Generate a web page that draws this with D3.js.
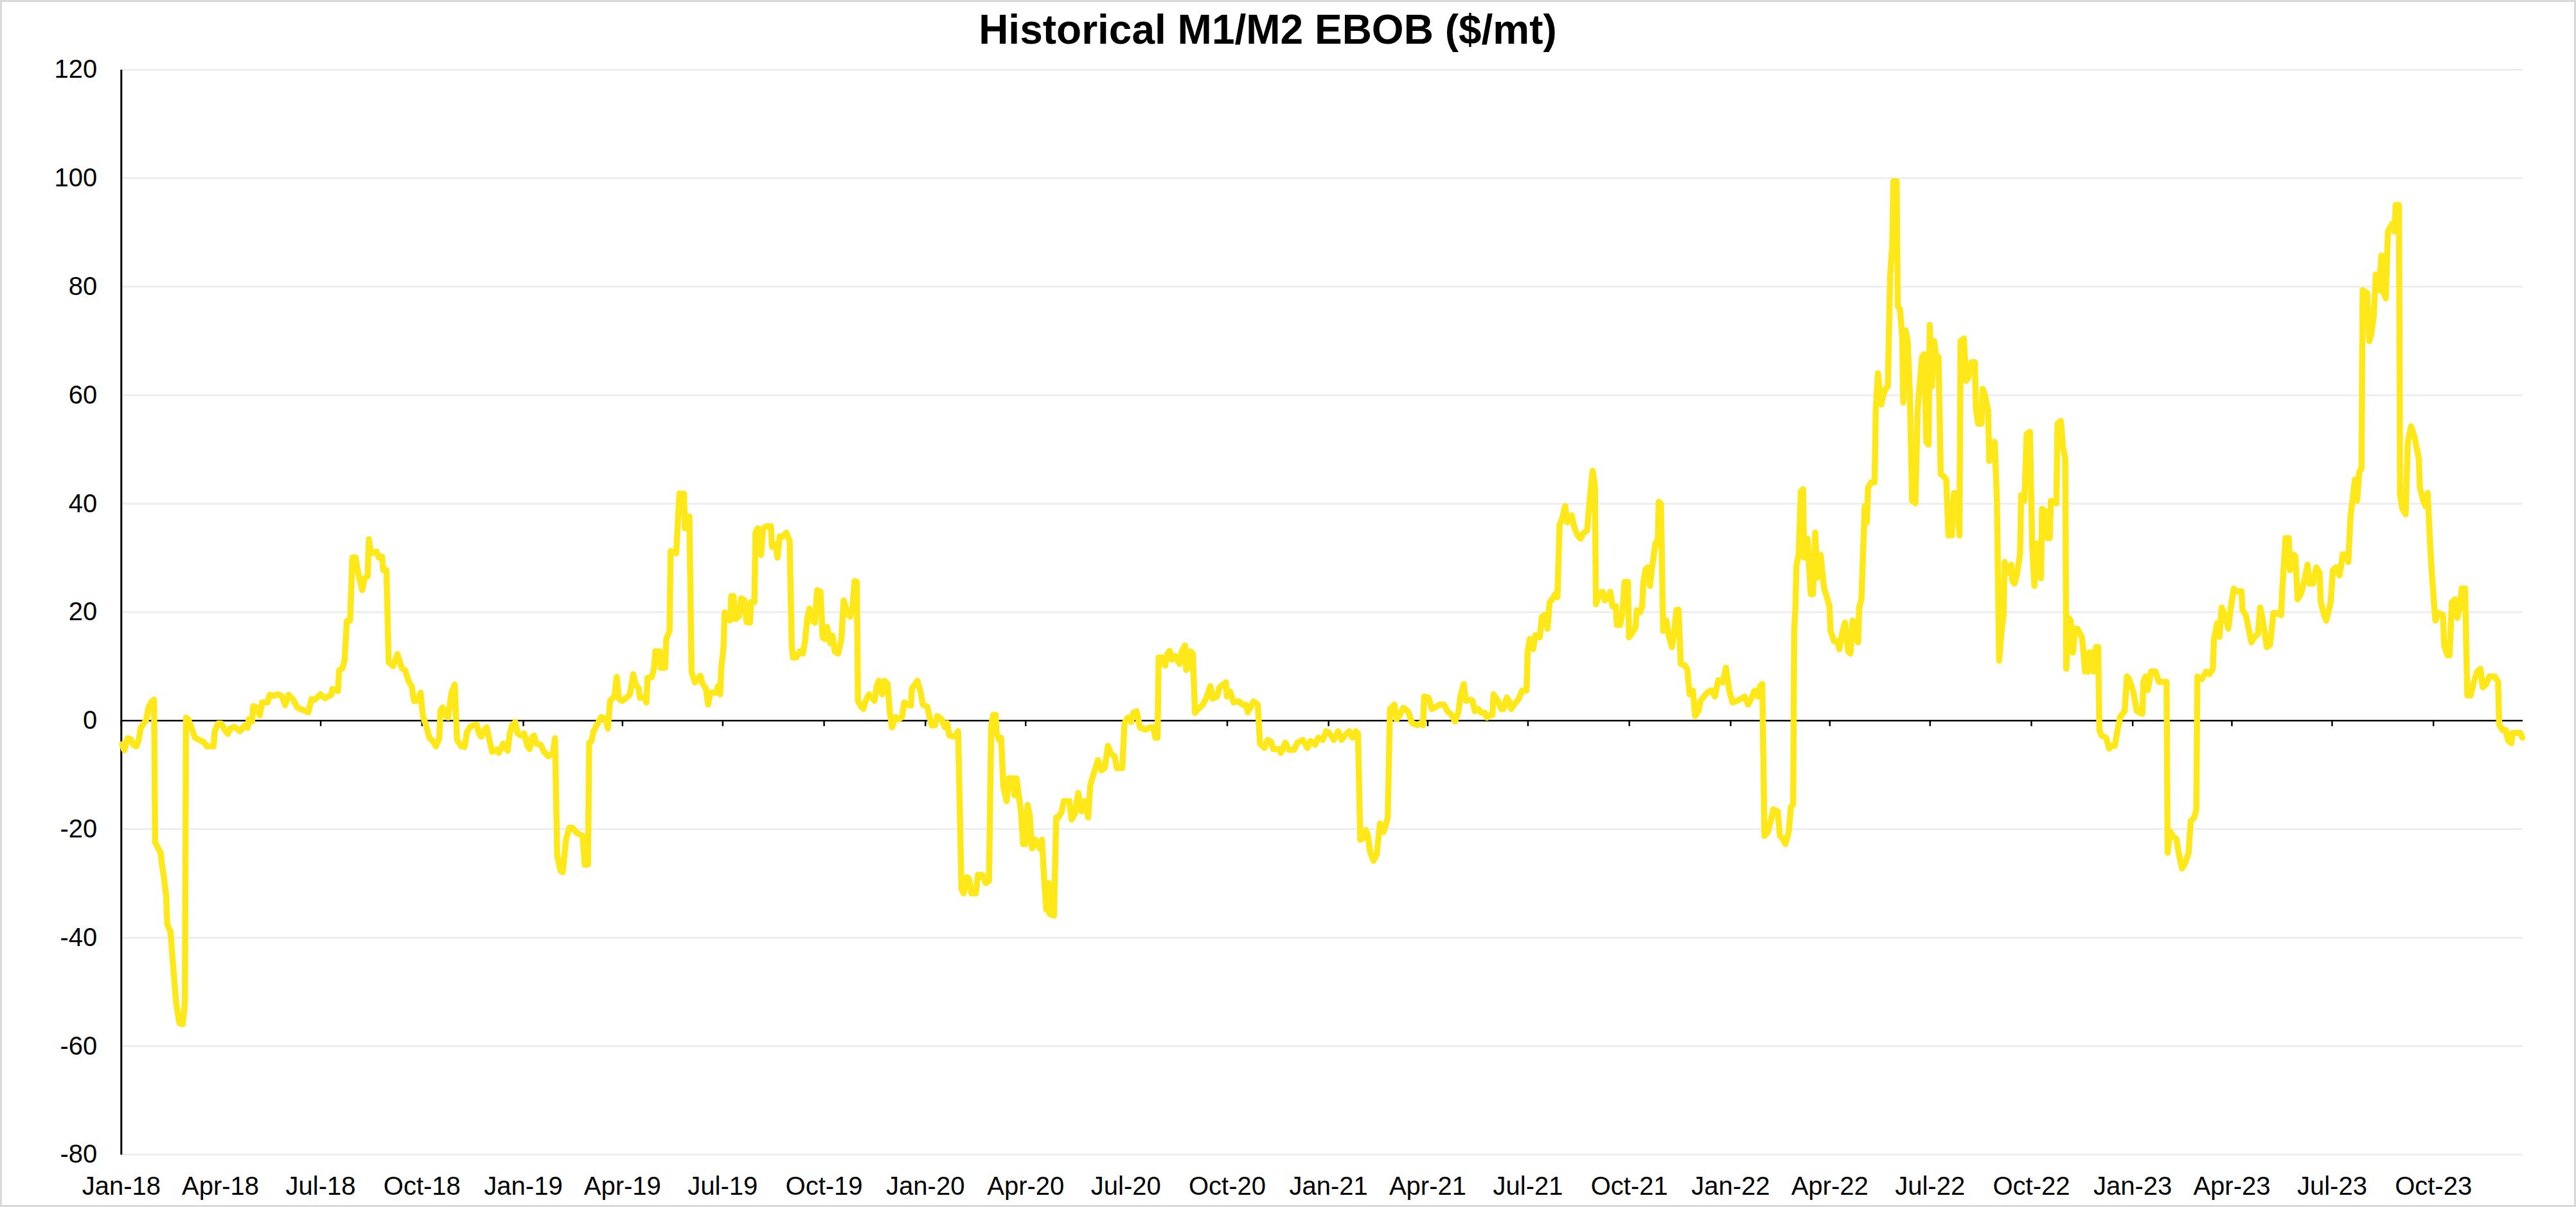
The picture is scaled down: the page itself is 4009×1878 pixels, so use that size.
<!DOCTYPE html>
<html><head><meta charset="utf-8">
<script src="https://cdn.jsdelivr.net/npm/d3@7"></script>
<style>html,body{margin:0;padding:0;background:#fff}svg{display:block}</style>
</head><body>
<svg id="chart" width="4009" height="1878"></svg>
<script>
const chartTitle = "Historical M1/M2 EBOB ($/mt)";
const yTicks = [-80, -60, -40, -20, 0, 20, 40, 60, 80, 100, 120];
const tickFormat = "%b-%y";

// day-of-year and value per calendar year
const d2018 = [2,4,7,10,12,15,17,19,22,24,26,29,31,32,35,37,38,40,42,43,46,48,51,54,57,59,60,62,65,68,72,76,79,85,86,89,92,95,98,100,104,109,113,116,117,120,121,124,127,129,134,136,140,143,147,150,153,157,161,165,169,171,174,177,182,186,192,193,198,199,202,204,206,209,211,214,216,220,222,225,226,228,233,235,238,239,242,244,248,252,256,259,262,265,267,270,273,275,278,281,284,287,290,291,293,296,298,301,304,306,310,313,315,318,321,324,326,328,331,333,335,338,342,344,348,352,354,356,359,361,364];
const v2018 = [-4.4,-5.5,-3.3,-3.5,-4.5,-4.8,-3.6,-1.4,-0.5,0.2,2.4,3.5,3.8,-22.5,-23.7,-24.4,-26.3,-29,-32.4,-37.6,-39,-44.4,-52,-55.8,-56,-52,0.5,0.2,-1.4,-3.2,-3.6,-4,-4.8,-4.8,-2.1,-0.6,-0.6,-1.7,-2.5,-1.5,-1.2,-2,-1,-1.4,0.2,-0.2,2.6,2.4,0.9,3.3,3.3,4.7,4.5,4.8,4.5,2.8,4.7,3.9,2.4,2.0,1.7,1.5,3.9,3.8,4.8,4.1,4.7,5.8,5.4,9.2,9.6,11.1,18.3,18.4,30,30,27.4,24,26.2,26.6,33.4,30.8,31.1,30,30.2,27.7,27.7,10.7,10,12.2,9.6,9.2,7.3,6.2,3.6,3.6,5.1,0.9,-1,-3.2,-3.8,-4.8,-3.2,1.7,2.4,0.9,0.5,5.1,6.6,-3.6,-4.8,-4.9,-2.2,-1.2,-0.9,-0.8,-2.4,-3,-1.7,-1.3,-3.2,-5.8,-5.4,-6,-4.3,-5.6,-2.4,-0.9,-0.3,-2.4,-2.8];

const d2019 = [2,5,7,9,11,13,17,20,24,28,30,32,35,37,40,43,46,49,52,55,57,60,61,63,65,69,72,76,78,80,84,86,88,91,95,98,101,103,106,107,111,113,114,118,120,121,125,126,130,131,134,135,140,143,147,148,152,154,157,162,164,167,169,171,176,178,180,181,183,184,187,189,190,192,194,197,199,202,204,207,208,211,212,214,217,219,222,226,227,230,232,234,237,240,243,245,246,249,252,255,257,259,261,263,266,268,271,273,275,277,280,282,284,287,290,292,296,298,300,302,304,305,308,310,312,315,320,322,324,327,329,332,334,336,339,342,345,347,350,353,354,357,359,362,364];
const v2019 = [-2.4,-4.7,-5.3,-3.2,-2.8,-4.3,-4.5,-5.8,-6.6,-6.2,-3.3,-25,-27.7,-28,-22,-19.8,-19.8,-20.6,-21,-21.3,-26.6,-26.6,-4.1,-3.9,-2,-0.5,0.6,0.2,-1.5,3.6,4.4,8,4,3.6,4.2,4.8,8.5,6.7,5.9,4.2,4.2,3.3,7.8,8,9.7,12.7,12.7,9.7,9.7,15,16.5,31.2,30.8,41.8,41.8,35.4,37.6,8.9,7,8.2,6.7,5.9,2.9,5.1,5.1,6.3,4.8,9.7,13.5,19.9,19.1,18.4,22.9,22.9,18.7,19.1,22.5,22.1,18.1,18,21.8,21.8,34.6,35.4,30.5,35.4,35.8,35.8,32,32.4,30,33.9,33.9,34.6,33.1,13.5,11.6,11.6,12.7,12.3,14.6,18.7,20.6,18.4,18,24,23.7,15.3,15,17.2,14.2,15.6,12.7,12.3,15,22.1,19.5,19.1,20.6,25.7,25.5,3.6,2.5,2.1,3.6,4.8,3.6,6.3,7.3,4.8,7.3,6.7,1.4,-1.3,0.6,0.2,0.6,3.3,2.9,2.7,5.9,6.7,7.3,5.1,2.9];

const d2020 = [3,5,7,10,12,16,19,21,23,28,31,34,36,39,41,43,47,49,53,56,59,61,63,65,66,68,70,72,75,77,81,82,84,86,88,90,92,94,96,98,101,105,107,109,111,113,114,118,120,122,125,127,132,134,137,140,143,146,149,151,155,158,161,164,167,170,173,175,180,182,185,188,190,193,196,201,205,208,210,212,213,216,219,221,223,225,228,232,234,237,238,240,242,244,246,249,253,256,260,262,266,268,272,274,275,278,281,286,289,292,294,299,303,305,309,312,315,317,322,324,328,331,336,339,344,348,351,355,358,362,365];
const v2020 = [2.5,0.6,-0.9,-0.9,0.8,0.2,-1.3,-0.5,-2.8,-3,-2,-31.1,-31.9,-28.9,-29.3,-31.9,-31.9,-28.5,-28.5,-30,-29.6,-0.9,1,1,-2.4,-3.6,-3.2,-12.2,-14.9,-10.7,-10.7,-13.8,-10.7,-13.8,-16.8,-22.8,-22.8,-15.6,-17.5,-23.6,-22,-23.6,-22,-28.9,-34.9,-30,-35.7,-36,-17.9,-17.9,-16.8,-14.9,-14.9,-18.3,-17.2,-13.4,-16.8,-14.9,-17.9,-11.9,-9.2,-7.3,-9.2,-8.8,-4.7,-6.2,-6.6,-8.8,-8.8,-0.5,0.5,-0.3,1.4,1.7,-1.3,-1.7,-1.3,-1.3,-3.2,-3.2,11.6,11.6,10.1,12.3,12.8,11.2,11.9,10.4,12.7,13.8,9.3,9.7,12.7,12.3,1.4,2.1,2.9,4,6.3,4,4.4,6,6.7,7,4.4,5.3,3.3,3.5,2.9,2.9,1.5,3.5,2.9,-4.3,-5.1,-3.6,-3.9,-5.3,-5.3,-6,-4.1,-5.4,-5.4,-4.1,-3.6,-5.1,-3.8,-4.5,-3.2,-3.6,-2];

const d2021 = [2,6,10,13,16,20,23,26,28,30,33,35,37,39,42,45,48,51,53,55,57,61,63,66,69,71,74,77,82,85,87,88,92,95,99,102,106,109,113,116,119,121,124,126,130,132,134,137,140,143,145,148,150,151,155,158,160,163,165,167,170,174,177,181,182,184,187,189,193,195,198,200,202,205,207,209,211,213,216,218,222,224,227,230,233,236,238,241,243,244,247,250,252,255,257,259,262,263,266,268,270,273,274,277,280,281,284,286,287,289,291,293,295,298,300,301,303,305,308,310,313,315,317,319,321,325,327,329,332,334,337,339,342,346,349,352,355,359,362,365];
const v2021 = [-2.3,-3.6,-2,-3.6,-2.8,-2,-3.2,-2,-2.4,-22,-21.7,-20.2,-21.3,-24.3,-25.9,-24.7,-19,-20.6,-19.4,-17.9,2.1,2.9,0.2,1,2.3,2.1,1.4,-0.5,-0.9,-0.5,-0.9,4.4,4.2,2.1,2.5,2.9,2.9,1.7,1,-0.2,1.4,4.4,6.7,3.6,3.8,3.6,1.7,2.1,1.4,1.4,0.5,1,1,4.8,3.6,2.1,2.1,4.2,3.6,2.1,3,4,5.5,5.5,12.7,15,13.1,15.7,15.3,19.1,19.5,16.9,21.8,22.5,23.3,22.7,36.1,36.9,39.5,36.5,37.8,35.8,34.2,33.5,34.6,35,39.9,46,43.3,21.4,23.3,23.7,22.1,22.5,23.7,21,21,17.6,17.6,19.9,25.5,25.5,15.3,16.1,17.2,20.3,19.9,21,25.5,27.8,28.2,24.8,28.2,32.7,32.4,40.3,39.9,16.5,18.4,15.7,13.5,16.1,20.3,20.4,10.4,10.1,9.3,4.8,5.5,0.8,1.7,3.6,4.4,5.3,5.5,4.4,7.4,7,9.7,5.5];

const d2022 = [3,7,11,14,17,20,23,26,28,30,32,35,38,40,44,46,48,51,54,56,58,59,60,61,63,65,67,68,71,74,76,78,80,83,86,89,91,92,95,98,100,103,105,108,110,112,115,117,118,120,123,125,126,129,132,133,135,138,140,142,144,146,148,149,152,153,155,157,158,160,162,164,166,169,171,173,175,177,179,181,182,184,186,188,190,192,195,197,199,202,204,207,209,210,213,215,217,220,223,224,226,229,230,232,235,236,238,240,241,243,245,247,249,250,253,256,257,259,261,264,265,268,270,273,275,277,279,281,283,284,287,289,291,292,297,298,301,303,305,306,308,310,312,314,316,320,321,323,326,327,330,331,333,335,336,338,342,345,347,350,352,355,359,361,363];
const v2022 = [3.3,3.6,4,4.4,2.9,4,5.5,4.4,6.3,6.7,-21.3,-20.6,-18.3,-16.4,-16.8,-21.3,-21.7,-22.8,-20.6,-16,-15.5,16.5,20.3,28.6,30.5,42.2,42.6,30,33.5,23.3,23.3,34.6,26.3,30.5,24.4,22.5,21,16.5,14.6,14.6,13.1,16.5,18,12.7,12.3,18.4,14.9,14.4,20.8,22.3,39.5,36.5,42.9,43.9,43.9,57.2,64,58.2,60.1,61.1,61.6,81.7,87.6,99.4,99.4,76.3,75.8,70.9,58.6,71.9,69.9,60.1,40.5,40,57.2,62.1,67,67.5,51.3,50.8,72.9,61.6,69.9,67,67,45.4,44.9,44.4,34.1,34.1,41.9,41.9,34.1,69.9,70.4,62.6,63.1,66,66,57.2,54.7,54.7,61.1,60.1,57.2,47.8,48.3,51.3,51.3,40.5,11,15.9,19.4,29.2,27.2,28.7,25.7,25.2,26.7,30.6,41.5,40.5,52.8,53.2,32.6,24.8,32.6,29.7,26.2,39,38.5,33.6,33.6,40.5,40,54.7,55.2,50.3,48.3,9.5,18.9,18.4,12.5,16.9,16.9,15.4,13.9,9,9,12.5,12.5,9,13.5,13.5,-1.8,-2.8,-3.2,-5.2,-4.7,-4.7,-2.3,0.7,1.7,8.1,7.6];

const d2023 = [2,5,10,11,13,15,18,22,25,32,33,35,38,41,43,46,49,52,54,57,59,60,64,68,71,74,75,78,80,82,85,88,90,93,95,100,101,104,107,109,112,115,117,119,123,126,129,132,136,137,140,143,144,147,149,151,154,157,160,162,165,168,171,172,175,177,181,183,186,189,192,195,197,199,203,205,207,209,210,214,216,218,220,222,225,227,229,231,233,237,239,240,243,244,246,249,251,254,257,261,262,265,267,269,272,274,276,279,283,284,287,289,291,294,296,298,300,303,305,308,311,314,317,319,322,325,330,333,334,337,340,342,345,346,349,353,355];
const v2023 = [5.1,1.7,1.2,7.1,8.1,5.6,9,9,7.1,7.1,-24.4,-20.4,-21.4,-21.9,-24.4,-27.3,-26.3,-24.4,-18.5,-18,-16.5,8.1,7.6,9,8.5,9.5,14.9,17.9,15.4,20.8,19.4,16.9,20.3,24.3,23.8,23.8,20.3,19.4,16.4,14.4,15.4,15.9,20.8,18.9,13.5,13.9,19.8,19.8,19.4,23.8,33.6,33.6,27.7,30.6,30.2,22.3,23.3,25.7,28.7,25.2,25.2,28.2,27.2,21.8,19.4,18.4,21.8,27.7,28.2,26.7,30.6,30.6,29.2,37.5,44.4,40.5,45.9,46.4,79.3,78.8,69.9,71.4,74.4,82.2,79.3,85.7,78.8,77.8,90.1,91.6,90.1,95,95,41.5,39,38,51.3,54.2,52.3,48.3,42.9,40.5,39.5,41.9,29.7,23.8,18.4,19.8,19.4,13.9,12,12,21.8,22.3,18.9,20.8,24.3,24.3,4.6,4.6,7.1,9,9.5,6.1,6.6,8.1,8.1,7.1,-0.8,-1.8,-1.8,-3.7,-4.2,-2.3,-2.3,-2.3,-3.2];

const years = [2018, 2019, 2020, 2021, 2022, 2023];
const dayArrays = [d2018, d2019, d2020, d2021, d2022, d2023];
const valueArrays = [v2018, v2019, v2020, v2021, v2022, v2023];

const data = [];
years.forEach((yr, k) => {
  dayArrays[k].forEach((d, i) => data.push({ date: new Date(yr, 0, d), value: valueArrays[k][i] }));
});

const W = 4009, H = 1878;
const FONT = "'Liberation Sans', Arial, Helvetica, sans-serif";
const svg = d3.select("#chart");

const xStart = new Date(2018, 0, 1), xEnd = new Date(2023, 11, 21);
const x = d3.scaleTime().domain([xStart, xEnd]).range([188.3, 3925.5]);
const y = d3.scaleLinear().domain([-80, 120]).range([1796, 108]);
const left = x.range()[0], right = x.range()[1];

// outer frame
svg.append("rect").attr("x", 0).attr("y", 0).attr("width", W).attr("height", H)
  .attr("fill", "#fff").attr("stroke", "#d9d9d9").attr("stroke-width", 6);

// horizontal gridlines
const grid = svg.append("g").attr("transform", `translate(${left},0)`)
  .call(d3.axisLeft(y).tickValues(yTicks.filter(v => v !== 0)).tickSize(-(right - left)).tickFormat(""));
grid.select(".domain").remove();
grid.selectAll("line").attr("stroke", "#ebebeb").attr("stroke-width", 2.5);

// x labels along the bottom
const qTicks = d3.timeMonth.every(3).range(new Date(2018, 0, 1), new Date(2023, 11, 1));
const xLab = svg.append("g").attr("transform", `translate(0,${y(-80)})`)
  .call(d3.axisBottom(x).tickValues(qTicks).tickFormat(d3.timeFormat(tickFormat)).tickSize(0).tickPadding(34.6));
xLab.select(".domain").remove();
xLab.selectAll("text").attr("font-family", FONT).attr("font-size", 40).attr("fill", "#000");

// zero line with tick marks
const zeroAx = svg.append("g").attr("transform", `translate(0,${y(0)})`)
  .call(d3.axisBottom(x).tickValues(qTicks).tickFormat("").tickSize(9).tickSizeOuter(0));
zeroAx.select(".domain").attr("stroke", "#000").attr("stroke-width", 2.5);
zeroAx.selectAll("line").attr("stroke", "#000").attr("stroke-width", 2.5);

// y axis
const yAx = svg.append("g").attr("transform", `translate(${left},0)`)
  .call(d3.axisLeft(y).tickValues(yTicks).tickFormat(d => String(d)).tickSize(0).tickPadding(37).tickSizeOuter(0));
yAx.select(".domain").attr("stroke", "#000").attr("stroke-width", 3);
yAx.selectAll("text").attr("font-family", FONT).attr("font-size", 40).attr("fill", "#000");

// series line
const line = d3.line().x(d => x(d.date)).y(d => y(d.value));
svg.append("path").datum(data).attr("d", line)
  .attr("fill", "none").attr("stroke", "#FFE81A").attr("stroke-width", 9.5)
  .attr("stroke-linejoin", "round").attr("stroke-linecap", "round");

// title
svg.append("text").attr("x", 1973).attr("y", 68).attr("text-anchor", "middle")
  .attr("font-family", FONT).attr("font-weight", "bold").attr("font-size", 64).attr("fill", "#000")
  .text(chartTitle);
</script>
</body></html>
